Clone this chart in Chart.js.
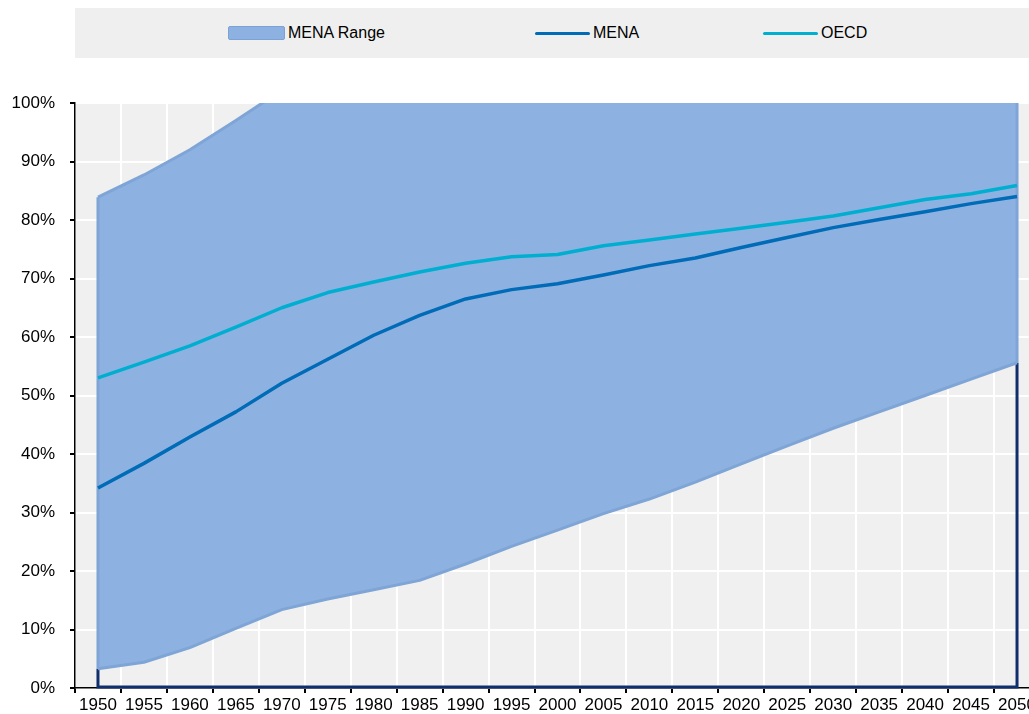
<!DOCTYPE html>
<html>
<head>
<meta charset="utf-8">
<script src="https://cdn.jsdelivr.net/npm/chart.js@4"></script>
<style>
  body { margin: 0; overflow: hidden; background: #fff; width: 1029px; height: 714px; position: relative;
         font-family: "Liberation Sans", Arial, sans-serif; }
  #wrap { position: absolute; left: 0; top: 0; }
  #legend { position: absolute; left: 75px; top: 8px; width: 954px; height: 50px; background: #efefef; }
  .item { position: absolute; top: 0; height: 50px; display: flex; align-items: center; font-size: 16px; color: #000; }
  .sw { display: inline-block; width: 55px; margin-right: 3px; }
</style>
</head>
<body>
<div id="wrap"><canvas id="chart" width="1045" height="714"></canvas></div>
<div id="legend">
  <div class="item" style="left:153px"><span class="sw" style="height:12px;background:#8db2e2;border:1px solid #7aa2d4;border-radius:2px"></span>MENA Range</div>
  <div class="item" style="left:460px"><span class="sw" style="height:3px;background:#006bb6;border-radius:2px"></span>MENA</div>
  <div class="item" style="left:688px"><span class="sw" style="height:3px;background:#00aed0;border-radius:2px"></span>OECD</div>
</div>
<script>
const years = ['1950','1955','1960','1965','1970','1975','1980','1985','1990','1995','2000',
               '2005','2010','2015','2020','2025','2030','2035','2040','2045','2050'];
// MENA range: lowest and highest country share (upper values above 100 are cut off by the axis)
const menaLow  = [3.3, 4.4, 6.9, 10.2, 13.4, 15.2, 16.8, 18.4, 21.2, 24.2, 27.0,
                  29.8, 32.3, 35.2, 38.3, 41.4, 44.4, 47.2, 50.0, 52.8, 55.6];
const menaHigh = [83.9, 87.7, 92.0, 97.0, 102.2, 105, 107, 109, 110, 111, 112,
                  113, 114, 115, 116, 117, 118, 119, 120, 121, 122];
const mena = [34.2, 38.4, 42.9, 47.2, 52.1, 56.2, 60.3, 63.7, 66.5, 68.1, 69.1,
              70.6, 72.2, 73.5, 75.3, 77.0, 78.7, 80.1, 81.4, 82.8, 84.0];
const oecd = [53.0, 55.7, 58.5, 61.7, 65.0, 67.6, 69.4, 71.1, 72.6, 73.7, 74.1,
              75.6, 76.6, 77.6, 78.6, 79.6, 80.7, 82.1, 83.5, 84.5, 85.9];
const yTicks = [0, 10, 20, 30, 40, 50, 60, 70, 80, 90, 100];

const font = { family: '"Liberation Sans", Arial, sans-serif', size: 17 };

const plotBg = {
  id: 'plotBg',
  beforeDraw(chart) {
    const { ctx, chartArea: a } = chart;
    ctx.save();
    ctx.fillStyle = '#f0f0f0';
    ctx.fillRect(a.left, a.top, a.right - a.left, a.bottom - a.top);
    ctx.restore();
  }
};

// outline of the stacked base under the range, and the side edges of the range
const rangeEdges = {
  id: 'rangeEdges',
  beforeDatasetsDraw(chart) {
    const { ctx, scales: { x, y } } = chart;
    const x0 = x.getPixelForValue(0), x1 = x.getPixelForValue(years.length - 1);
    const yz = y.getPixelForValue(0);
    ctx.save();
    ctx.strokeStyle = '#0e2f6b';
    ctx.lineWidth = 3;
    ctx.beginPath();
    ctx.moveTo(x0, y.getPixelForValue(menaLow[0]));
    ctx.lineTo(x0, yz - 1);
    ctx.lineTo(x1, yz - 1);
    ctx.lineTo(x1, y.getPixelForValue(menaLow[menaLow.length - 1]));
    ctx.stroke();
    ctx.restore();
  },
  afterDatasetDraw(chart, args) {
    if (args.index !== 1) return;
    const { ctx, scales: { x, y }, chartArea: a } = chart;
    ctx.save();
    ctx.beginPath();
    ctx.rect(a.left, a.top, a.right - a.left, a.bottom - a.top);
    ctx.clip();
    ctx.strokeStyle = '#7ea5d6';
    ctx.lineWidth = 3;
    [0, years.length - 1].forEach(i => {
      const px = x.getPixelForValue(i);
      ctx.beginPath();
      ctx.moveTo(px, y.getPixelForValue(menaLow[i]));
      ctx.lineTo(px, y.getPixelForValue(menaHigh[i]));
      ctx.stroke();
    });
    ctx.restore();
  }
};

const ctx = document.getElementById('chart').getContext('2d');
const chart = new Chart(ctx, {
  type: 'line',
  data: {
    labels: years,
    datasets: [
      { label: 'MENA low', data: menaLow, borderColor: '#7ea5d6', borderWidth: 3,
        pointRadius: 0, fill: false, order: 2 },
      { label: 'MENA Range', data: menaHigh, borderColor: '#7ea5d6', borderWidth: 3,
        backgroundColor: '#8db2e2', pointRadius: 0, fill: '-1', order: 3, clip: 0 },
      { label: 'MENA', data: mena, borderColor: '#006bb6', borderWidth: 3.5,
        pointRadius: 0, fill: false, order: 1 },
      { label: 'OECD', data: oecd, borderColor: '#00aed0', borderWidth: 3.5,
        pointRadius: 0, fill: false, order: 0 }
    ]
  },
  options: {
    responsive: false,
    animation: false,
    layout: { padding: { top: 103, right: 5, left: 0, bottom: 0 } },
    plugins: { legend: { display: false }, tooltip: { enabled: false } },
    elements: { line: { tension: 0, borderJoinStyle: 'round', borderCapStyle: 'butt' } },
    scales: {
      x: {
        type: 'category',
        offset: true,
        grid: { offset: true, color: '#ffffff', lineWidth: 2, tickColor: '#000', tickLength: 5 },
        border: { color: '#000', width: 1.5 },
        ticks: { color: '#000', font: font, maxRotation: 0, autoSkip: false, padding: 2 },
        afterFit(s) { s.height = 26; }
      },
      y: {
        min: 0, max: 100,
        afterBuildTicks(s) { s.ticks = yTicks.map(v => ({ value: v })); },
        grid: { color: '#ffffff', lineWidth: 2, tickColor: '#000', tickLength: 5 },
        border: { color: '#000', width: 1.5 },
        ticks: { color: '#000', font: font, padding: 15, callback: v => v + '%' },
        afterFit(s) { s.width = 75; }
      }
    }
  },
  plugins: [plotBg, rangeEdges]
});
</script>
</body>
</html>
